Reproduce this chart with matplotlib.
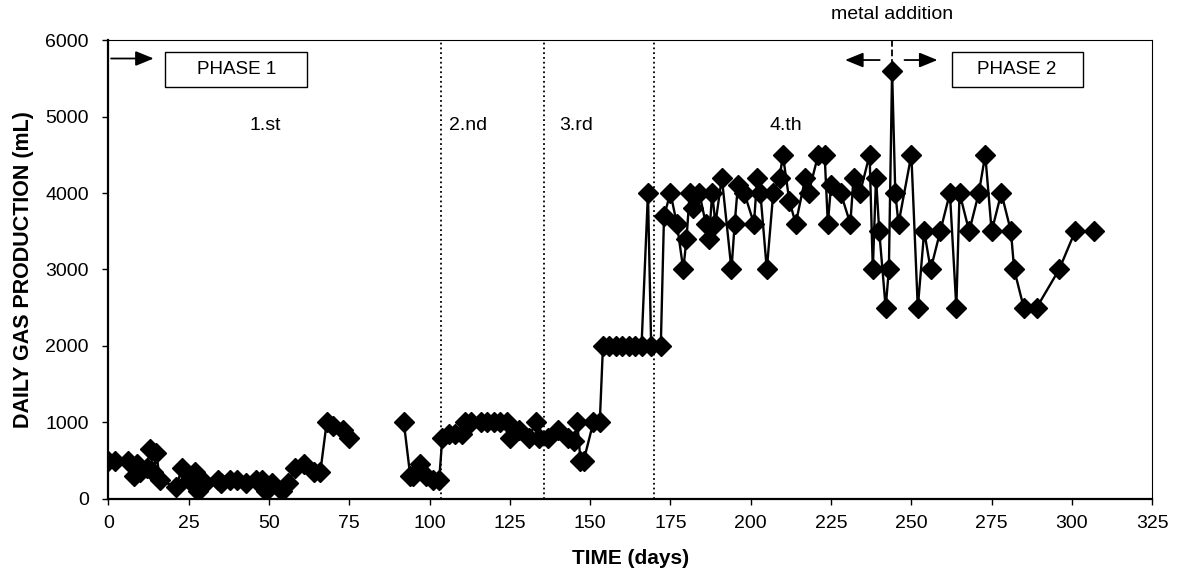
import matplotlib
matplotlib.use('Agg')
import matplotlib.pyplot as plt
from matplotlib.patches import Rectangle

plt.rcParams['font.family'] = ['Liberation Sans', 'DejaVu Sans']

# daily gas production, phase 1 (days 0-76)
days_a = [0, 2, 6, 8, 9, 10, 12, 13, 14, 15, 16, 21, 23, 25, 27, 28, 30, 34, 35,
          38, 40, 43, 46, 48, 49, 51, 54, 56, 58, 61, 64, 66, 68, 70, 73, 75]
gas_a = [500, 500, 500, 300, 450, 350, 400, 650, 350, 600, 250, 150, 400, 250, 350, 100, 200, 250, 200,
         250, 250, 200, 250, 250, 100, 200, 100, 200, 400, 450, 350, 350, 1000, 950, 900, 800]

# after the gap (day 92 onwards)
days_b = [92, 94, 95, 97, 99, 101, 103, 104, 106, 108, 110, 111, 113, 116, 118, 120, 122, 124,
          125, 128, 131, 133, 134, 137, 140, 143, 145, 146, 147, 148, 151, 153,
          154, 156, 158, 160, 162, 164, 166, 168, 169, 172, 173, 175, 177, 179, 180, 181,
          182, 184, 186, 187, 188, 189, 191, 194, 195, 196, 198, 201, 202, 203, 205, 207,
          209, 210, 212, 214, 217, 218, 221, 223, 224, 225, 228, 231, 232, 234, 237, 238,
          239, 240, 242, 243, 244, 245, 246, 250, 252, 254, 256, 259, 262, 264, 265, 268,
          271, 273, 275, 278, 281, 282, 285, 289, 296, 301, 307]
gas_b = [1000, 300, 300, 450, 300, 250, 250, 800, 850, 850, 850, 1000, 1000, 1000, 1000, 1000, 1000, 1000,
         800, 900, 800, 1000, 800, 800, 900, 800, 750, 1000, 500, 500, 1000, 1000,
         2000, 2000, 2000, 2000, 2000, 2000, 2000, 4000, 2000, 2000, 3700, 4000, 3600, 3000, 3400, 4000,
         3800, 4000, 3600, 3400, 4000, 3600, 4200, 3000, 3600, 4100, 4000, 3600, 4200, 4000, 3000, 4000,
         4200, 4500, 3900, 3600, 4200, 4000, 4500, 4500, 3600, 4100, 4000, 3600, 4200, 4000, 4500, 3000,
         4200, 3500, 2500, 3000, 5600, 4000, 3600, 4500, 2500, 3500, 3000, 3500, 4000, 2500, 4000, 3500,
         4000, 4500, 3500, 4000, 3500, 3000, 2500, 2500, 3000, 3500, 3500]

stage_limits = [103.5, 135.5, 170]
stage_names = ['1.st', '2.nd', '3.rd', '4.th']
stage_label_x = [49, 112, 145.5, 211]
metal_day = 244

fig = plt.figure(figsize=(11.77, 5.82), dpi=100)
ax = fig.add_axes([0.092, 0.143, 0.887, 0.788])

for d, g in [(days_a, gas_a), (days_b, gas_b)]:
    ax.plot(d, g, color='black', lw=1.7, marker='D', ms=10,
            markerfacecolor='black', markeredgecolor='black', zorder=3)

for x in stage_limits:
    ax.axvline(x, color='black', ls=':', lw=1.3, zorder=1)

for x, name in zip(stage_label_x, stage_names):
    ax.text(x, 4890, name, ha='center', va='center', fontsize=14)

# phase boxes and arrows
ax.add_patch(Rectangle((17.8, 5390), 44.2, 455, fill=False, ec='black', lw=1.0, zorder=4))
ax.text(39.9, 5615, 'PHASE 1', ha='center', va='center', fontsize=13.5)
ax.add_patch(Rectangle((262.5, 5390), 40.8, 455, fill=False, ec='black', lw=1.0, zorder=4))
ax.text(282.9, 5615, 'PHASE 2', ha='center', va='center', fontsize=13.5)

arrow = dict(arrowstyle='-|>,head_length=1.1,head_width=0.45', color='black', lw=1.3)
ax.annotate('', xy=(15, 5760), xytext=(0, 5760), arrowprops=arrow)
ax.annotate('', xy=(228.5, 5740), xytext=(241, 5740), arrowprops=arrow)
ax.annotate('', xy=(259, 5740), xytext=(247, 5740), arrowprops=arrow)

ax.plot([metal_day, metal_day], [6000, 5650], color='black', ls='--', lw=1.3, zorder=2)
ax.text(metal_day, 6330, 'metal addition', ha='center', va='center', fontsize=14, clip_on=False)

ax.set_xlim(0, 325)
ax.set_ylim(0, 6000)
ax.set_xticks(range(0, 326, 25))
ax.set_yticks(range(0, 6001, 1000))
ax.tick_params(direction='out', length=4, width=1, labelsize=14)
ax.tick_params(axis='x', pad=8)
ax.tick_params(axis='y', pad=10)
for side in ['left', 'bottom']:
    ax.spines[side].set_linewidth(1.6)
for side in ['top', 'right']:
    ax.spines[side].set_linewidth(0.8)

ax.set_xlabel('TIME (days)', fontsize=15, fontweight='bold', labelpad=12)
ax.set_ylabel('DAILY GAS PRODUCTION (mL)', fontsize=15.5, fontweight='bold', labelpad=8)

fig.savefig('out.png', dpi=100)
